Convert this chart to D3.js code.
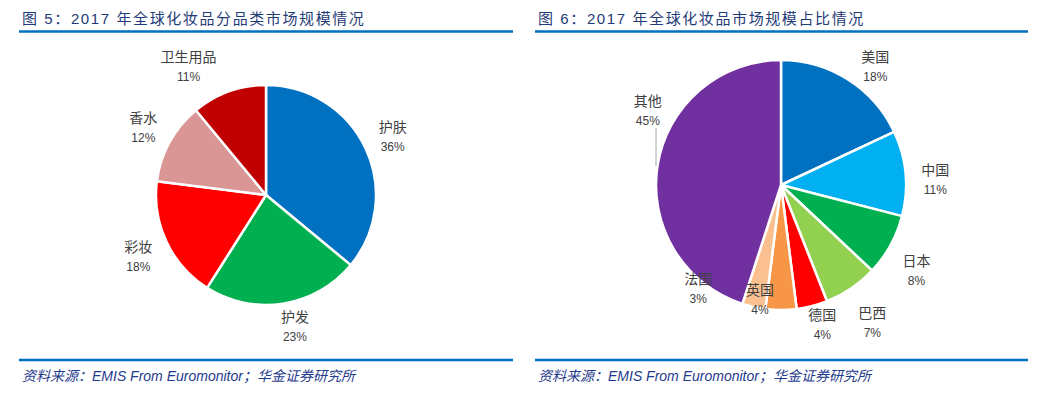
<!DOCTYPE html>
<html lang="zh">
<head>
<meta charset="utf-8">
<title>2017 全球化妆品市场规模</title>
<script src="https://cdnjs.cloudflare.com/ajax/libs/d3/7.8.5/d3.min.js"></script>
<style>
  body { margin: 0; background: #fff; }
  svg { display: block; font-family: "Liberation Sans", "Noto Sans CJK SC", sans-serif; }
  .title { font-size: 15px; fill: #1f3b78; letter-spacing: 1.6px; }
  .source { font-size: 14px; fill: #1f3b8c; font-style: italic; }
  .lbl { font-size: 14px; fill: #404040; }
  .pct { font-size: 12px; fill: #404040; }
</style>
</head>
<body>
<div id="chart"></div>
<script>
// left panel: by category
var catNames = ["护肤", "护发", "彩妆", "香水", "卫生用品"];
var catValues = [36, 23, 18, 12, 11];
var catColors = ["#0070c0", "#00b050", "#ff0000", "#d99694", "#c00000"];

// right panel: by country
var ctyNames = ["美国", "中国", "日本", "巴西", "德国", "英国", "法国", "其他"];
var ctyValues = [18, 11, 8, 7, 4, 4, 3, 45];
var ctyColors = ["#0070c0", "#00b0f0", "#00b050", "#92d050", "#ff0000", "#f79646", "#fac090", "#7030a0"];

var titles = ["图 5：2017 年全球化妆品分品类市场规模情况", "图 6：2017 年全球化妆品市场规模占比情况"];
var source = "资料来源：EMIS From Euromonitor；华金证券研究所";

var W = 1040, H = 395;
var svg = d3.select("#chart").append("svg").attr("width", W).attr("height", H);

// small nudges for the data labels (excel places some of them by hand)
var nudgeLeft = { "护肤": [0, 2], "护发": [7, -6], "彩妆": [-1, 2], "香水": [0, 0], "卫生用品": [-30, 4] };
var nudgeRight = { "美国": [14, 9], "中国": [5, 9], "日本": [4, 14], "巴西": [7, 14],
                   "德国": [4, -5], "英国": [-21, -35], "法国": [-50, -42], "其他": [15, -51] };

function panel(x0, x1, title, names, values, colors, cx, cy, r, nudge, labelR) {
  var g = svg.append("g");

  g.append("text").attr("class", "title")
    .attr("x", x0 + 3).attr("y", 24).text(title);
  g.append("line").attr("x1", x0).attr("x2", x1).attr("y1", 31.5).attr("y2", 31.5)
    .attr("stroke", "#0070c0").attr("stroke-width", 2.5);
  g.append("line").attr("x1", x0).attr("x2", x1).attr("y1", 360).attr("y2", 360)
    .attr("stroke", "#0070c0").attr("stroke-width", 2.5);
  g.append("text").attr("class", "source")
    .attr("x", x0 + 3).attr("y", 381).text(source);

  var data = names.map(function (n, i) { return { name: n, value: values[i], color: colors[i] }; });
  var pie = d3.pie().sort(null).value(function (d) { return d.value; });
  var arc = d3.arc().innerRadius(0).outerRadius(r);
  var labelArc = d3.arc().innerRadius(labelR).outerRadius(labelR);

  var pg = g.append("g").attr("transform", "translate(" + cx + "," + cy + ")");
  var arcs = pie(data);

  pg.selectAll("path").data(arcs).join("path")
    .attr("d", arc)
    .attr("fill", function (d) { return d.data.color; })
    .attr("stroke", "#fff")
    .attr("stroke-width", 2.5)
    .attr("stroke-linejoin", "round");

  var lg = pg.selectAll("g.label").data(arcs).join("g").attr("class", "label")
    .attr("transform", function (d) {
      var c = labelArc.centroid(d);
      var n = nudge[d.data.name] || [0, 0];
      return "translate(" + (c[0] + n[0]) + "," + (c[1] + n[1]) + ")";
    });
  lg.append("text").attr("class", "lbl").attr("text-anchor", "middle").attr("y", -5)
    .text(function (d) { return d.data.name; });
  lg.append("text").attr("class", "pct").attr("text-anchor", "middle").attr("y", 14)
    .text(function (d) { return d.data.value + "%"; });
  return pg;
}

panel(19, 513, titles[0], catNames, catValues, catColors, 266, 195, 110, nudgeLeft, 140);
var pr = panel(535, 1028, titles[1], ctyNames, ctyValues, ctyColors, 781, 185, 125, nudgeRight, 150);

// leader line for 其他
pr.append("line").attr("x1", -125).attr("x2", -125).attr("y1", -57).attr("y2", -19)
  .attr("stroke", "#a6a6a6").attr("stroke-width", 1);
</script>
</body>
</html>
